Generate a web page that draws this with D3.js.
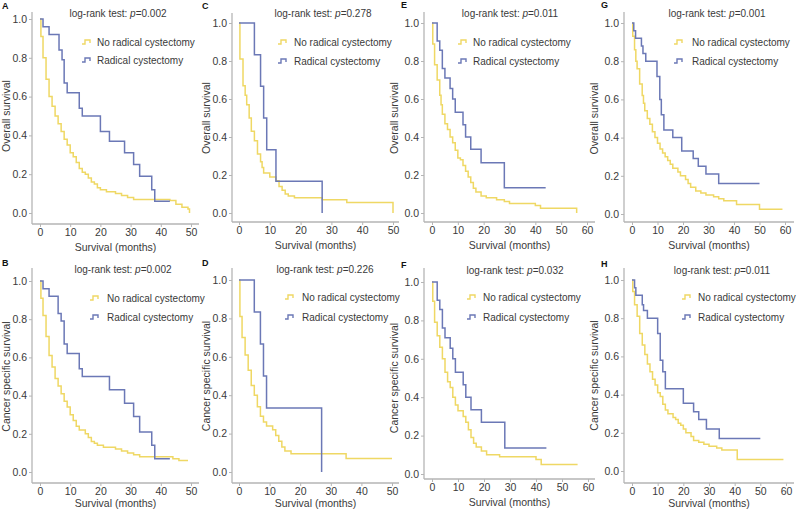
<!DOCTYPE html>
<html><head><meta charset="utf-8">
<script src="https://cdn.jsdelivr.net/npm/d3@7"></script>
<style>body{margin:0;background:#fff}svg{display:block}text{font-family:"Liberation Sans",Arial,sans-serif}</style>
</head><body><svg id="c" width="799" height="511"></svg>
<script>
// ---- data ----
const panelLetters = ["A","C","E","G","B","D","F","H"];
const pValues = ["0.002","0.278","0.011","0.001","0.002","0.226","0.032","0.011"];
const yTitles = ["Overall survival","Overall survival","Overall survival","Overall survival",
  "Cancer specific survival","Cancer specific survival","Cancer specific survival","Cancer specific survival"];
const xTitle = "Survival (months)";
const seriesNames = ["No radical cystectomy","Radical cystectomy"];
const xMaxes = [50,50,60,60,50,50,60,60];
const yTicks = [0,0.2,0.4,0.6,0.8,1.0];

const aNo = [[0,1],[0.3,0.91],[1,0.80],[2,0.69],[3,0.60],[4,0.55],[5,0.50],[6,0.46],[7,0.42],[8,0.38],[9,0.35],[10,0.31],[11,0.29],[12,0.26],[13,0.23],[14,0.21],[15,0.20],[16,0.18],[17,0.16],[18,0.15],[19,0.13],[20,0.12],[22,0.11],[25,0.10],[27,0.09],[29,0.08],[31,0.07],[43,0.065],[45,0.045],[47,0.03],[49,0.02],[49.5,0.02],[49.5,0]];
const aRC = [[0,1],[1,0.96],[3,0.92],[6.3,0.84],[7.3,0.79],[8,0.67],[9,0.62],[13,0.54],[14,0.50],[20,0.42],[23,0.37],[28,0.31],[31,0.25],[33,0.19],[37,0.12],[38,0.06],[43,0.06]];
const bNo = [[0,1],[0.3,0.91],[1,0.82],[2,0.71],[3,0.61],[4,0.55],[5,0.49],[6,0.45],[7,0.41],[8,0.37],[9,0.34],[10,0.30],[11,0.27],[12,0.24],[13,0.22],[15,0.20],[16,0.18],[17,0.16],[18,0.15],[19,0.14],[21,0.13],[25,0.12],[27,0.11],[29,0.10],[31,0.09],[33,0.08],[44,0.07],[46,0.06],[49,0.06]];
const bRC = [[0,1],[1,0.96],[3,0.92],[6,0.83],[7,0.79],[8,0.67],[9,0.62],[13,0.54],[14,0.50],[23,0.43],[28,0.36],[31,0.29],[33,0.21],[37,0.14],[38,0.07],[43,0.07]];
const cNo = [[0,1],[0.3,0.81],[1.3,0.67],[2,0.62],[2.5,0.57],[3.3,0.50],[4,0.43],[5,0.38],[6,0.31],[7,0.27],[7.5,0.24],[8,0.21],[10,0.19],[12,0.17],[13,0.14],[14,0.12],[15,0.10],[16,0.09],[18,0.08],[27,0.07],[35,0.055],[50,0.055],[50,0]];
const cRC = [[0,1],[5,0.833],[7,0.667],[8,0.5],[9,0.333],[12,0.167],[27,0.167],[27,0]];
const dNo = [[0,1],[0.3,0.81],[1,0.70],[2,0.61],[3,0.53],[4,0.45],[5,0.40],[6,0.34],[7,0.29],[8,0.26],[9,0.24],[11,0.22],[12,0.19],[13,0.16],[14,0.13],[15,0.11],[17,0.095],[35,0.07],[50,0.07]];
const dRC = [[0,1],[5,0.833],[7,0.667],[8,0.5],[9,0.333],[27,0.333],[27,0]];
const eNo = [[0,1],[0.3,0.89],[1,0.78],[2,0.70],[3,0.62],[3.5,0.57],[4,0.52],[5,0.47],[6,0.44],[7,0.40],[8,0.37],[9,0.33],[10,0.29],[11,0.28],[12,0.25],[13,0.22],[14,0.19],[15,0.16],[16,0.13],[17,0.11],[19,0.09],[21,0.08],[25,0.07],[28,0.06],[30,0.05],[40,0.04],[42,0.025],[56,0.025],[56,0]];
const eRC = [[0,1],[2,0.905],[3,0.857],[4,0.76],[5,0.71],[7,0.655],[8,0.60],[9,0.53],[12,0.465],[13,0.40],[15,0.335],[19,0.265],[28,0.133],[44,0.133]];
const fNo = [[0,1],[0.3,0.90],[1,0.79],[2,0.72],[3,0.66],[4,0.60],[5,0.53],[6,0.48],[7,0.45],[8,0.40],[9,0.36],[10,0.33],[12,0.30],[13,0.27],[14,0.23],[15,0.19],[16,0.16],[17,0.14],[19,0.12],[21,0.10],[26,0.09],[40,0.075],[42,0.05],[56,0.05]];
const fRC = [[0,1],[2,0.905],[3,0.857],[4,0.76],[5,0.71],[7,0.655],[8,0.60],[9,0.53],[12,0.465],[13,0.40],[15,0.335],[19,0.27],[28,0.135],[44,0.135]];
const gNo = [[0,1],[0.3,0.93],[1,0.86],[1.5,0.80],[2,0.76],[3,0.68],[4,0.62],[4.5,0.58],[5,0.54],[6,0.50],[7,0.47],[8,0.43],[9,0.40],[10,0.37],[11,0.34],[12,0.32],[13,0.30],[14,0.28],[15,0.26],[16,0.24],[18,0.22],[19,0.20],[21,0.18],[22,0.16],[23,0.14],[25,0.12],[27,0.11],[29,0.10],[32,0.09],[34,0.08],[36,0.07],[41,0.05],[50,0.025],[59,0.025]];
const gRC = [[0,1],[0.7,0.96],[1.4,0.92],[3.7,0.88],[4.3,0.84],[5.4,0.80],[9.8,0.72],[10.9,0.60],[11.5,0.52],[12.5,0.44],[16,0.40],[19.5,0.33],[24,0.29],[26,0.25],[29,0.21],[34,0.16],[50,0.16]];
const hNo = [[0,1],[0.3,0.94],[1,0.87],[2,0.81],[3,0.72],[4,0.66],[5,0.61],[6,0.56],[7,0.52],[8,0.48],[9,0.45],[10,0.41],[11,0.39],[12,0.35],[13,0.32],[14,0.30],[16,0.28],[17,0.27],[18,0.25],[19,0.24],[20,0.22],[21,0.20],[23,0.18],[24,0.16],[26,0.15],[28,0.14],[30,0.13],[33,0.12],[35,0.11],[41,0.06],[59,0.06]];
const hRC = [[0,1],[1,0.96],[1.5,0.92],[4,0.87],[4.5,0.84],[6,0.80],[10,0.72],[11,0.58],[12,0.52],[13,0.43],[20,0.355],[24,0.31],[26,0.27],[29,0.22],[34,0.17],[50,0.17]];
const curvesNo = [aNo,cNo,eNo,gNo,bNo,dNo,fNo,hNo];
const curvesRC = [aRC,cRC,eRC,gRC,bRC,dRC,fRC,hRC];

// ---- layout (pixel positions) ----
const layout = [
  {ax:32, x0:40, x1:191, y1:19, y0:213, xa:224, top:12, right:199, lg:82, lt:97, ly:[42,60], px:118, py:17, lx:2, ly0:9, yt:6, xt:27},
  {ax:232, x0:239, x1:393, y1:23, y0:213, xa:222, top:13, right:399, lg:278, lt:294, ly:[42,61], px:323, py:17, lx:202, ly0:9, yt:206, xt:27},
  {ax:424, x0:432, x1:587, y1:23, y0:213, xa:222, top:12, right:595, lg:458, lt:473, ly:[42,61], px:510, py:17, lx:401, ly0:8, yt:394, xt:27},
  {ax:624, x0:632, x1:785, y1:23, y0:214, xa:222, top:12, right:794, lg:674, lt:692, ly:[42,61], px:717, py:17, lx:601, ly0:8, yt:594, xt:27},
  {ax:32, x0:40, x1:191, y1:281, y0:472, xa:483, top:268, right:199, lg:90, lt:107, ly:[298,317], px:123, py:273, lx:2, ly0:266, yt:6, xt:24},
  {ax:232, x0:239, x1:392, y1:280, y0:472, xa:483, top:268, right:399, lg:285, lt:302, ly:[297,317], px:325, py:273, lx:202, ly0:266, yt:206, xt:24},
  {ax:424, x0:432, x1:588, y1:282, y0:474, xa:479, top:268, right:595, lg:467, lt:483, ly:[297,317], px:515, py:274, lx:401, ly0:268, yt:394, xt:27},
  {ax:624, x0:632, x1:786, y1:280, y0:471, xa:483, top:268, right:794, lg:682, lt:698, ly:[297,317], px:722, py:274, lx:601, ly0:267, yt:594, xt:24}
];
const colors = ["#EFD864","#6B78B6"];
const axisColor = "#b5b5b5", textColor = "#3a3a3a";

const svg = d3.select("#c");
layout.forEach((L,i)=>{
  const x = d3.scaleLinear().domain([0,xMaxes[i]]).range([L.x0,L.x1]);
  const y = d3.scaleLinear().domain([0,1]).range([L.y0,L.y1]);
  const g = svg.append("g");
  g.append("line").attr("x1",L.ax).attr("x2",L.ax).attr("y1",L.top).attr("y2",L.xa).attr("stroke",axisColor).attr("stroke-width",1.3);
  g.append("line").attr("x1",L.ax).attr("x2",L.right).attr("y1",L.xa).attr("y2",L.xa).attr("stroke",axisColor).attr("stroke-width",1.3);
  const xa = g.append("g").attr("transform",`translate(0,${L.xa})`)
    .call(d3.axisBottom(x).tickValues(d3.range(0,xMaxes[i]+1,10)).tickSize(3).tickPadding(2).tickFormat(d3.format("d")));
  xa.select(".domain").remove();
  xa.selectAll("line").attr("stroke",axisColor);
  xa.selectAll("text").attr("fill",textColor).style("font-size","10.5px").style("font-family","'Liberation Sans',Arial,sans-serif");
  const ya = g.append("g").attr("transform",`translate(${L.ax},0)`)
    .call(d3.axisLeft(y).tickValues(yTicks).tickSize(3).tickPadding(2).tickFormat(d3.format(".1f")));
  ya.select(".domain").remove();
  ya.selectAll("line").attr("stroke",axisColor);
  ya.selectAll("text").attr("fill",textColor).style("font-size","10.5px").style("font-family","'Liberation Sans',Arial,sans-serif");
  g.append("text").attr("x",(L.ax+L.right)/2).attr("y",L.xa+L.xt).attr("text-anchor","middle")
    .attr("fill",textColor).style("font-size","10.5px").text(xTitle);
  g.append("text").attr("transform",`translate(${L.yt+4},${(L.y0+L.y1)/2}) rotate(-90)`).attr("text-anchor","middle")
    .attr("fill",textColor).style("font-size","10.5px").text(yTitles[i]);
  g.append("text").attr("x",L.lx).attr("y",L.ly0).attr("fill","#111").style("font-size","9px").style("font-weight","bold").text(panelLetters[i]);
  const t = g.append("text").attr("x",L.px).attr("y",L.py).attr("text-anchor","middle").attr("fill",textColor).style("font-size","10px");
  t.append("tspan").text("log-rank test: ");
  t.append("tspan").style("font-style","italic").text("p");
  t.append("tspan").text("="+pValues[i]);
  const line = d3.line().x(d=>x(d[0])).y(d=>y(d[1])).curve(d3.curveStepAfter);
  [curvesNo[i],curvesRC[i]].forEach((c,k)=>{
    g.append("path").attr("d",line(c)).attr("fill","none").attr("stroke",colors[k]).attr("stroke-width",1.5);
  });
  seriesNames.forEach((n,k)=>{
    const yy = L.ly[k];
    g.append("path").attr("d",`M${L.lg},${yy+2}h3v-4h5v3`).attr("fill","none").attr("stroke",colors[k]).attr("stroke-width",1.4);
    g.append("text").attr("x",L.lt).attr("y",yy+4).attr("fill",textColor).style("font-size","10px").text(n);
  });
});
</script></body></html>
